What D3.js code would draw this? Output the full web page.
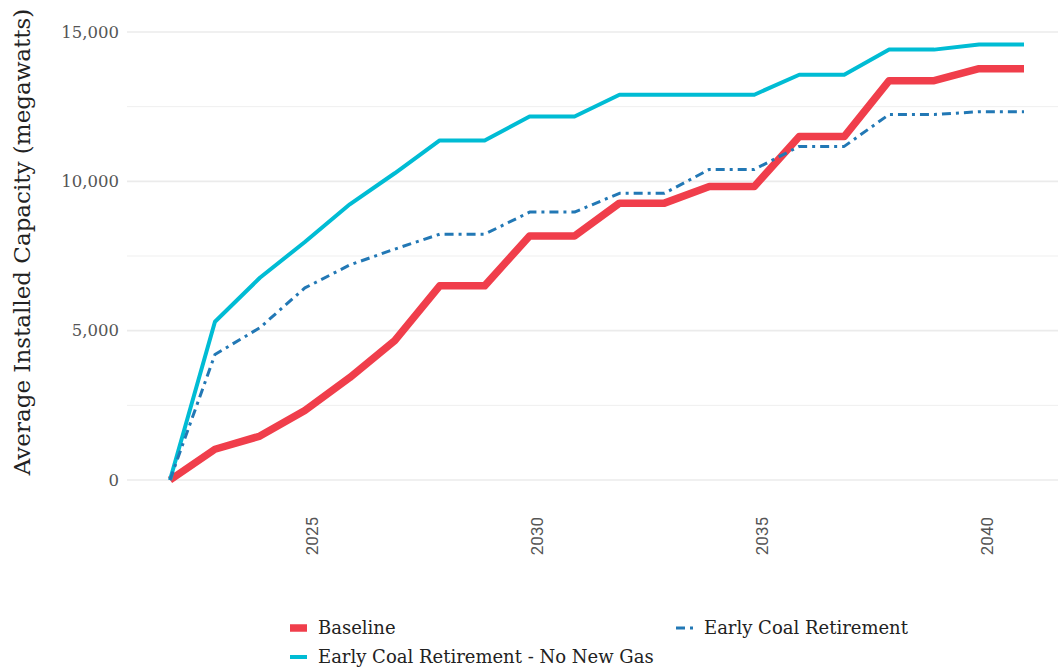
<!DOCTYPE html>
<html>
<head>
<meta charset="utf-8">
<script src="https://cdn.jsdelivr.net/npm/d3@7"></script>
<style>
  body { margin: 0; background: #fff; }
  svg { display: block; }
</style>
</head>
<body>
<div id="chart"></div>
<script>
// data
const years = d3.range(2022, 2042);
const baseline = [0, 1030, 1470, 2330, 3430, 4670, 6500, 6500, 8170, 8170,
                  9270, 9270, 9830, 9830, 11500, 11500, 13370, 13370, 13770, 13770];
const earlyCoal = [0, 4200, 5100, 6430, 7200, 7730, 8230, 8230, 8970, 8970,
                   9600, 9600, 10400, 10400, 11170, 11170, 12240, 12240, 12330, 12330];
const noNewGas = [0, 5300, 6770, 7970, 9230, 10270, 11370, 11370, 12170, 12170,
                  12900, 12900, 12900, 12900, 13570, 13570, 14410, 14410, 14580, 14580];
const yTicks = [0, 5000, 10000, 15000];
const yMinor = [2500, 7500, 12500];
const xTicks = [2025, 2030, 2035, 2040];

const series = [
  { name: "Baseline", values: baseline, color: "#f03e4b", width: 7.5, dash: null },
  { name: "Early Coal Retirement - No New Gas", values: noNewGas, color: "#00bcd4", width: 4, dash: null },
  { name: "Early Coal Retirement", values: earlyCoal, color: "#2278b5", width: 3, dash: "9,5,3,5" }
];

const W = 1058, H = 671;
const margin = { left: 127, right: 0, top: 32, bottom: 191 };

const svg = d3.select('#chart')
  .append('svg')
  .attr('width', W)
  .attr('height', H);

const x = d3.scaleLinear()
  .domain([2022, 2041])
  .range([170, 1024]);

const y = d3.scaleLinear()
  .domain([0, 15000])
  .range([480, 32]);

// grid
svg.append('g')
  .selectAll('line.minor')
  .data(yMinor)
  .enter().append('line')
  .attr('x1', margin.left).attr('x2', W)
  .attr('y1', d => y(d)).attr('y2', d => y(d))
  .style('stroke', '#efefef')
  .style('stroke-width', 1);

svg.append('g')
  .selectAll('line.major')
  .data(yTicks)
  .enter().append('line')
  .attr('x1', margin.left).attr('x2', W)
  .attr('y1', d => y(d)).attr('y2', d => y(d))
  .style('stroke', '#ebebeb')
  .style('stroke-width', 1.6);

// y axis labels
const yAxis = svg.append('g')
  .attr('transform', `translate(${margin.left - 8},0)`)
  .call(d3.axisLeft(y).tickValues(yTicks).tickFormat(d3.format(',')).tickSize(0).tickPadding(0));
yAxis.select('.domain').remove();
yAxis.selectAll('.tick > text')
  .style('font-family', '"DejaVu Serif", serif')
  .style('font-size', '16.5px')
  .style('fill', '#555');

// x axis labels
const xAxis = svg.append('g')
  .attr('transform', `translate(0, ${y(0) + 37})`)
  .call(d3.axisBottom(x).tickValues(xTicks).tickFormat(d3.format('d')).tickSize(0).tickPadding(0));
xAxis.select('.domain').remove();
xAxis.selectAll('.tick > text')
  .attr('transform', 'rotate(-90)')
  .attr('text-anchor', 'end')
  .attr('x', 0)
  .attr('y', 7)
  .attr('dy', '0.35em')
  .style('font-family', 'Roboto, sans-serif')
  .style('font-size', '17px')
  .style('fill', '#555');

// axis title
svg.append('text')
  .attr('transform', `translate(30, 242) rotate(-90)`)
  .attr('text-anchor', 'middle')
  .text('Average Installed Capacity (megawatts)')
  .style('font-family', '"DejaVu Serif", serif')
  .style('font-size', '23px')
  .style('fill', '#222');

// lines
const line = d3.line()
  .x((d, i) => x(years[i]))
  .y(d => y(d));

svg.append('g')
  .selectAll('path')
  .data(series)
  .enter().append('path')
  .attr('d', d => line(d.values))
  .style('fill', 'none')
  .style('stroke', d => d.color)
  .style('stroke-width', d => d.width)
  .style('stroke-dasharray', d => d.dash)
  .style('stroke-linejoin', 'round');

// legend
const legendItems = [
  { s: series[0], x: 290, y: 628 },
  { s: series[2], x: 676, y: 628 },
  { s: series[1], x: 290, y: 657 }
];

const legend = svg.append('g');
const li = legend.selectAll('g')
  .data(legendItems)
  .enter().append('g')
  .attr('transform', d => `translate(${d.x},${d.y})`);

li.append('line')
  .attr('x1', 0).attr('x2', 17)
  .attr('y1', 0).attr('y2', 0)
  .style('stroke', d => d.s.color)
  .style('stroke-width', d => d.s.width)
  .style('stroke-dasharray', d => d.s.dash);

li.append('text')
  .attr('x', 28)
  .attr('y', 0)
  .attr('dy', '0.35em')
  .text(d => d.s.name)
  .style('font-family', '"DejaVu Serif", serif')
  .style('font-size', '18px')
  .style('fill', '#222');
</script>
</body>
</html>
